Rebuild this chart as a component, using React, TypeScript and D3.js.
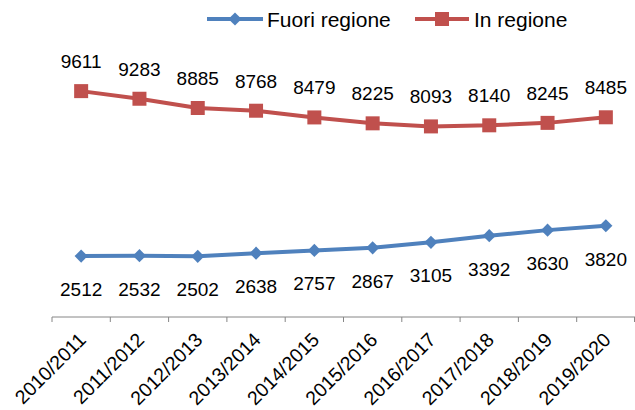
import React from 'react';
import * as d3 from 'd3';

const years = ['2010/2011', '2011/2012', '2012/2013', '2013/2014', '2014/2015', '2015/2016', '2016/2017', '2017/2018', '2018/2019', '2019/2020'];
const fuoriRegione = [2512, 2532, 2502, 2638, 2757, 2867, 3105, 3392, 3630, 3820];
const inRegione = [9611, 9283, 8885, 8768, 8479, 8225, 8093, 8140, 8245, 8485];

const BLUE = '#4F81BD';
const RED = '#C0504D';
const FONT = 'Liberation Sans, Arial, sans-serif';

export default function App() {
  const width = 635;
  const height = 410;
  const axisY = 317;

  const x = d3.scaleBand<string>().domain(years).range([52, 635]);
  const y = d3.scaleLinear().domain([0, 12000]).range([314.5, 35.6]);
  const cx = (d: string) => (x(d) ?? 0) + x.bandwidth() / 2;

  const line = d3.line<number>()
    .x((_, i) => cx(years[i]))
    .y(d => y(d));

  const diamond = d3.symbol().type(d3.symbolDiamond2).size(110)();

  const series = [
    { name: 'Fuori regione', values: fuoriRegione, color: BLUE, marker: 'diamond', labelDy: 40 },
    { name: 'In regione', values: inRegione, color: RED, marker: 'square', labelDy: -23 },
  ];

  return (
    <svg width={width} height={height} style={{ position: 'absolute', left: 0, top: 0, background: '#fff' }} fontFamily={FONT}>
      {/* x axis */}
      <line x1={52} x2={635} y1={axisY} y2={axisY} stroke="#868686" strokeWidth={1} />
      {[...years.map(d => x(d) ?? 0), 634.5].map((t, i) => (
        <line key={i} x1={t} x2={t} y1={axisY} y2={axisY + 5} stroke="#868686" strokeWidth={1} />
      ))}
      {years.map(d => (
        <text key={d} transform={`translate(${cx(d) + 6},${axisY + 24}) rotate(-45)`} textAnchor="end" fontSize={19.5} fill="#000">
          {d}
        </text>
      ))}

      {series.map(s => (
        <g key={s.name}>
          <path d={line(s.values) ?? ''} fill="none" stroke={s.color} strokeWidth={4} strokeLinejoin="round" />
          {s.values.map((v, i) => (
            s.marker === 'square'
              ? <rect key={i} x={cx(years[i]) - 7} y={y(v) - 7} width={14} height={14} fill={s.color} />
              : <path key={i} d={diamond ?? ''} transform={`translate(${cx(years[i])},${y(v)})`} fill={s.color} />
          ))}
          {s.values.map((v, i) => (
            <text key={'l' + i} x={cx(years[i])} y={y(v) + s.labelDy} textAnchor="middle" fontSize={19} fill="#000">
              {v}
            </text>
          ))}
        </g>
      ))}

      {/* legend */}
      <g>
        <line x1={207} x2={263} y1={19} y2={19} stroke={BLUE} strokeWidth={4} />
        <path d={diamond ?? ''} transform="translate(235,19)" fill={BLUE} />
        <text x={267} y={27} fontSize={21} fill="#000">Fuori regione</text>
        <line x1={415} x2={469} y1={19} y2={19} stroke={RED} strokeWidth={4} />
        <rect x={435} y={12} width={14} height={14} fill={RED} />
        <text x={474} y={27} fontSize={21} fill="#000">In regione</text>
      </g>
    </svg>
  );
}
